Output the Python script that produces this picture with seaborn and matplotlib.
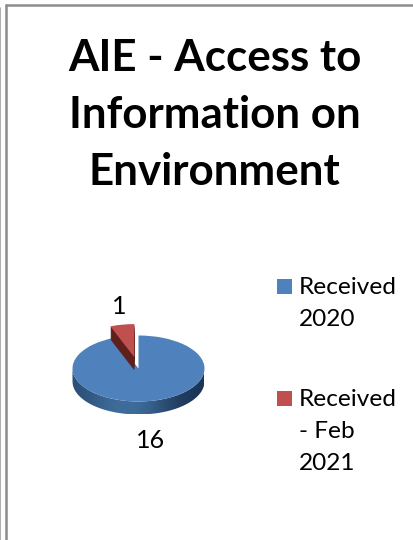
import numpy as np
import matplotlib
matplotlib.use("Agg")
import matplotlib.pyplot as plt
from matplotlib.colors import LinearSegmentedColormap
from matplotlib.lines import Line2D
from matplotlib.patches import PathPatch, Rectangle
from matplotlib.path import Path
import seaborn as sns

sns.set_theme(style="white")
plt.rcParams['font.family'] = ['Lato', 'DejaVu Sans']

categories = ["Received 2020", "Received - Feb 2021"]
legend_labels = ["Received\n2020", "Received\n- Feb\n2021"]
values = [16, 1]
colors = ["#4F81BD", "#C0504D"]
title_lines = ["AIE - Access to", "Information on", "Environment"]

W, H = 414, 540
fig = plt.figure(figsize=(W / 100, H / 100), dpi=100, facecolor="white")

# page frame
bg = fig.add_axes([0, 0, 1, 1], zorder=0)
bg.set_xlim(0, W); bg.set_ylim(H, 0); bg.axis("off")
gray = "#8C8C8C"
bg.add_line(Line2D([0.5, 0.5], [8, H], color="#A0A0A0", lw=1.2))
bg.add_line(Line2D([6.5, 6.5], [4.5, H], color=gray, lw=1.8))
bg.add_line(Line2D([6.5, W], [4.5, 4.5], color=gray, lw=1.8))

for line, y in zip(title_lines, [58, 115, 172]):
    bg.text(214.5, y, line, ha="center", va="center", fontsize=31.6, fontweight="bold", color="black")

# pie axes: ellipse in pixels
cx, cy, rx, ry, depth = 138.5, 368.5, 66, 33, 13
ax = fig.add_axes([(cx - rx * 1.5) / W, 1 - (cy + ry * 1.5) / H, rx * 3 / W, ry * 3 / H], zorder=1)
ax.set_facecolor("none")
d = depth / ry


def draw_pie(vals, cols, center=(0, 0), explode=None):
    w, _ = ax.pie(vals, colors=cols, startangle=90, counterclock=False, radius=1,
                  center=center, explode=explode, frame=False, normalize=True)
    return w


# blue side wall, shaded by a horizontal gradient clipped to the wall shape
t = np.linspace(np.pi, 2 * np.pi, 80)
xs = np.cos(t); ys = np.sin(t)
verts = np.column_stack([np.r_[xs, xs[::-1]], np.r_[ys, ys[::-1] - d]])
wall = PathPatch(Path(verts), transform=ax.transData, fc="none", ec="none")
ax.add_patch(wall)
grad = np.array([[0.45, 0.85, 1.0, 0.8, 0.25, 0.0]])
cmap = LinearSegmentedColormap.from_list("side", ["#1C3556", "#41709F"])
im = ax.imshow(grad, extent=[-1, 1, -1 - d, 0], cmap=cmap, aspect="auto", interpolation="bicubic", zorder=1)
im.set_clip_path(wall)

# blue top face
w = draw_pie(values, [colors[0], "none"])
for p in w:
    p.set_zorder(2); p.set_linewidth(0)

# red slice: dark side stack, then top face
ex = [0, 0.35]
for k in np.linspace(d, 0.02, 14):
    w = draw_pie(values, ["none", "#5E1F1D"], center=(0, -k), explode=ex)
    for p in w:
        p.set_zorder(3); p.set_linewidth(0)
w = draw_pie(values, ["none", colors[1]], explode=ex)
for p in w:
    p.set_zorder(4); p.set_linewidth(0)

ax.set_aspect("auto")
ax.set_xlim(-1.5, 1.5); ax.set_ylim(-1.5, 1.5)
ax.axis("off")

# data labels
bg.text(119, 306, str(values[1]), ha="center", va="center", fontsize=18, color="black", zorder=5)
bg.text(150.5, 441, str(values[0]), ha="center", va="center", fontsize=18, color="black", zorder=5)

# legend
for col, lab, y0 in zip(colors, legend_labels, [279, 391]):
    bg.add_patch(Rectangle((277, y0), 15, 15, fc=col, ec="none"))
    for i, line in enumerate(lab.split("\n")):
        bg.text(299, y0 + 8.5 + i * 32, line, ha="left", va="center", fontsize=17.6, color="black")

fig.savefig("out.png", dpi=100, facecolor="white")
